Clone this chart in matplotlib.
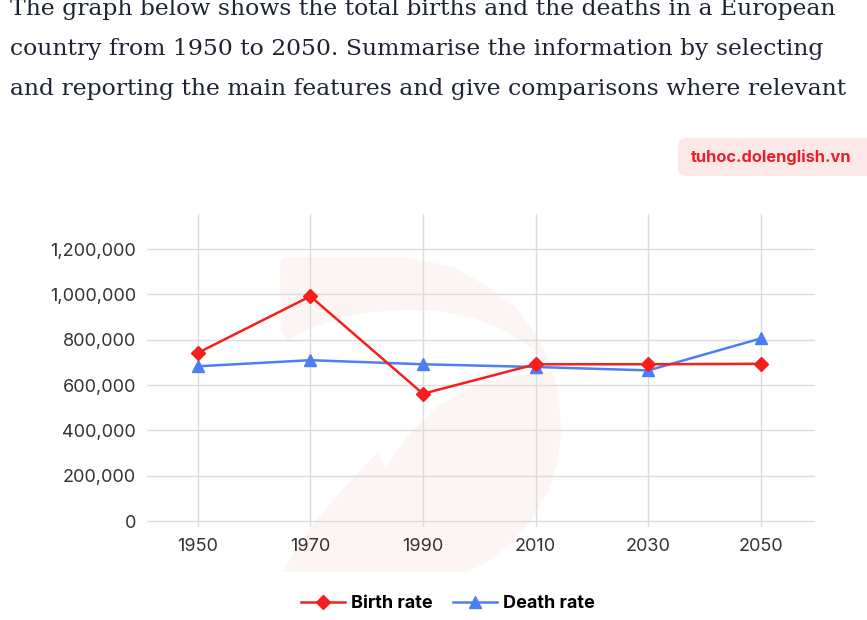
import matplotlib
matplotlib.use("Agg")
import matplotlib.pyplot as plt
from matplotlib.ticker import FuncFormatter
from matplotlib.patches import FancyBboxPatch, Polygon

years = ["1950", "1970", "1990", "2010", "2030", "2050"]
birth_rate = [742000, 992000, 562000, 692000, 692000, 694000]
death_rate = [683000, 710000, 692000, 680000, 665000, 806000]
y_ticks = [0, 200000, 400000, 600000, 800000, 1000000, 1200000]

title_lines = [
    "The graph below shows the total births and the deaths in a European",
    "country from 1950 to 2050. Summarise the information by selecting",
    "and reporting the main features and give comparisons where relevant",
]

W, H = 867, 620
fig = plt.figure(figsize=(W / 100, H / 100), dpi=100)
fig.patch.set_facecolor("white")

# background overlay in pixel coordinates (watermark decoration)
bg = fig.add_axes([0, 0, 1, 1], zorder=0)
bg.set_xlim(0, W)
bg.set_ylim(H, 0)
bg.axis("off")
wm = "#fdf4f4"
upper = [(280, 262), (284, 257), (407, 257), (455, 268), (490, 288), (518, 310),
         (538, 338), (553, 370), (530, 347), (500, 328), (473, 318), (440, 311),
         (407, 310), (370, 312), (340, 318), (310, 328), (288, 340), (281, 332)]
lower = [(553, 372), (559, 400), (561, 430), (558, 460), (548, 492), (530, 522),
         (507, 547), (487, 562), (467, 572), (283, 572), (296, 548), (318, 518),
         (345, 487), (378, 452), (385, 468), (410, 433), (440, 405), (473, 386),
         (510, 376)]
bg.add_patch(Polygon(upper, closed=True, facecolor=wm, edgecolor="none"))
bg.add_patch(Polygon(lower, closed=True, facecolor=wm, edgecolor="none"))

# watermark badge
bg.add_patch(FancyBboxPatch((678, 138), 200, 38, boxstyle="round,pad=0,rounding_size=8",
                            facecolor="#fde8e8", edgecolor="none"))
fig.text(771 / W, 1 - 157 / H, "tuhoc.dolenglish.vn", family="Inter",
         fontsize=11.8, fontweight="bold", color="#e8202a", ha="center", va="center")

# Title text (serif), fitted to reference width
renderer = fig.canvas.get_renderer()
probe = fig.text(0, 0, title_lines[2], family="DejaVu Serif", fontsize=16)
wpx = probe.get_window_extent(renderer).width
probe.remove()
tsize = 16 * 838 / wpx
for i, line in enumerate(title_lines):
    fig.text(10 / W, 1 - (15 + 40 * i) / H, line, family="DejaVu Serif",
             fontsize=tsize, color="#1e2433", va="baseline", ha="left")

left, right, top, bottom = 147, 815, 214, 527
ax = fig.add_axes([left / W, 1 - bottom / H, (right - left) / W, (bottom - top) / H], zorder=1)
ax.set_facecolor("none")

x = list(range(len(years)))
ax.plot(x, birth_rate, color="#f71e1e", lw=1.8, marker="D", markersize=7.5,
        label="Birth rate", zorder=4)
ax.plot(x, death_rate, color="#4d7ef5", lw=1.8, marker="^", markersize=8.5,
        label="Death rate", zorder=3)

ax.set_xlim(-0.45, 5.48)
ax.set_ylim(-26000, 1355000)
ax.set_xticks(x)
ax.set_xticklabels(years)
ax.set_yticks(y_ticks)
ax.yaxis.set_major_formatter(FuncFormatter(lambda v, p: f"{int(v):,}"))
ax.grid(True, color="#dcdcdc", lw=1)
ax.set_axisbelow(True)
for s in ax.spines.values():
    s.set_visible(False)
ax.tick_params(axis="both", length=0, labelsize=13, labelcolor="#333333")
ax.tick_params(axis="y", pad=8)
ax.tick_params(axis="x", pad=8)
for lab in ax.get_xticklabels() + ax.get_yticklabels():
    lab.set_family("Inter")

leg = fig.legend(loc="center", bbox_to_anchor=(448 / W, 1 - 604 / H), ncol=2,
                 frameon=False, handlelength=2.4, columnspacing=1.15,
                 handletextpad=0.35, numpoints=1,
                 prop={"family": "Inter", "weight": "bold", "size": 13})

fig.savefig("out.png", dpi=100)
